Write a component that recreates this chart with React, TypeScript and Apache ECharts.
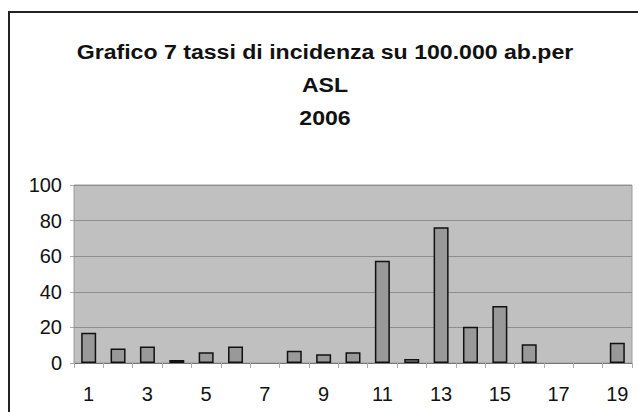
import React, { useEffect, useRef } from "react";
import * as echarts from "echarts";

const categories = ["1","2","3","4","5","6","7","8","9","10","11","12","13","14","15","16","17","18","19"];
const values = [17, 8.2, 9.2, 1.7, 6, 9.2, 0, 6.9, 4.9, 6, 57.5, 2.2, 76.2, 20.4, 32, 10.5, 0, 0, 11.4];
const titleLines = ["Grafico 7 tassi di incidenza su 100.000 ab.per", "ASL", "2006"];

export default function App() {
  const ref = useRef<HTMLDivElement>(null);
  useEffect(() => {
    const chart = echarts.init(ref.current!, null, { renderer: "svg" });
    const font = "'Liberation Sans', Arial, sans-serif";
    chart.setOption({
      animation: false,
      backgroundColor: "#ffffff",
      grid: {
        left: 74, top: 185, right: 6, bottom: 49,
        show: true, backgroundColor: "#c0c0c0", borderColor: "#9a9a9a", borderWidth: 1,
      },
      graphic: [
        {
          type: "rect",
          shape: { x: 9, y: 12, width: 660, height: 440 },
          style: { fill: "none", stroke: "#222", lineWidth: 2 },
          silent: true,
        },
        {
          type: "text",
          x: 325, y: 85,
          scaleX: 1.1,
          style: {
            text: titleLines.join("\n"),
            fontFamily: font, fontWeight: "bold", fontSize: 21,
            lineHeight: 33,
            align: "center", verticalAlign: "middle",
            fill: "#111",
          },
        },
      ],
      xAxis: {
        type: "category",
        data: categories,
        boundaryGap: true,
        axisLine: { lineStyle: { color: "#777", width: 1 } },
        axisTick: { show: true, interval: 0, length: 5, lineStyle: { color: "#aaa" } },
        axisLabel: { interval: 1, margin: 21, fontSize: 20, color: "#111", fontFamily: font },
        splitLine: { show: false },
      },
      yAxis: {
        type: "value",
        min: 0, max: 100, interval: 20,
        axisLine: { show: false },
        axisTick: { show: true, length: 4, lineStyle: { color: "#aaa" } },
        axisLabel: { margin: 12, fontSize: 20, color: "#111", fontFamily: font },
        splitLine: { lineStyle: { color: "#8f8f8f", width: 1 } },
      },
      series: [
        {
          type: "bar",
          data: values.map((v) => (v === 0 ? { value: v, itemStyle: { borderWidth: 0, opacity: 0 } } : v)),
          barWidth: 15,
          itemStyle: { color: "#999999", borderColor: "#111", borderWidth: 1.5 },
        },
      ],
    });
    return () => chart.dispose();
  }, []);
  return <div ref={ref} style={{ position: "fixed", left: 0, top: 0, width: 638, height: 412 }} />;
}
